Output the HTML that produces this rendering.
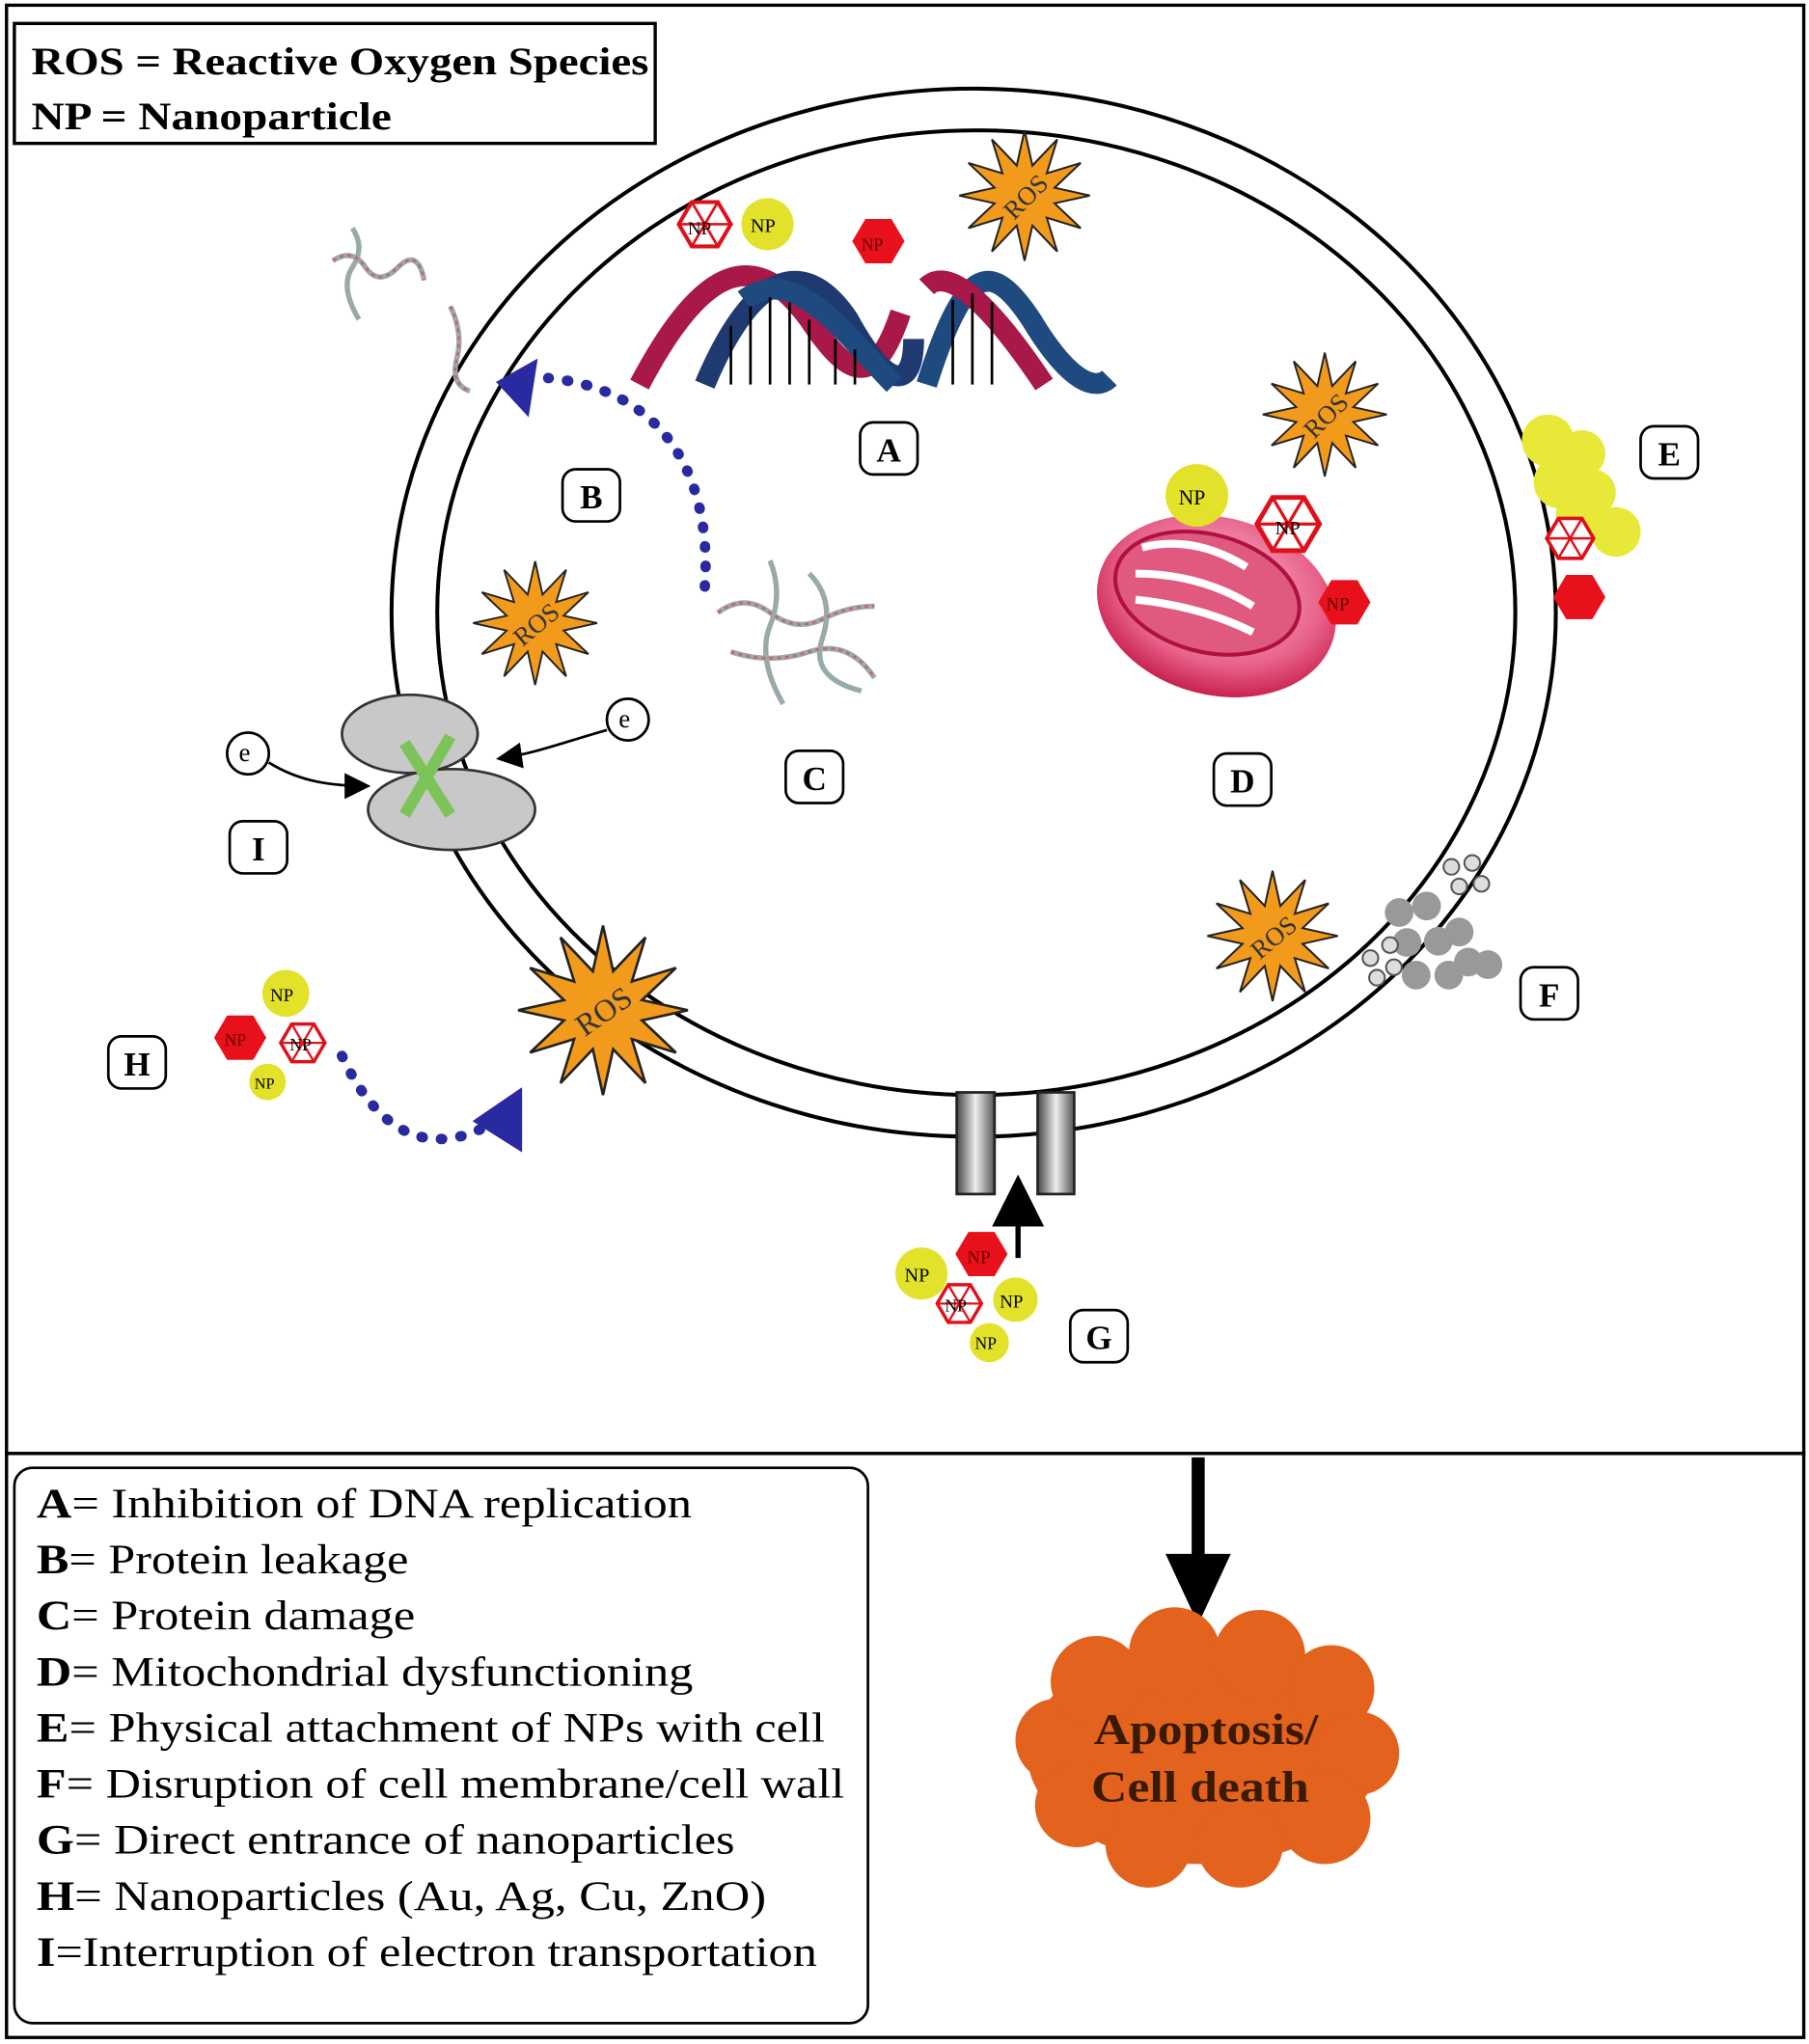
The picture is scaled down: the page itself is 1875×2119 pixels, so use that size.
<!DOCTYPE html>
<html><head><meta charset="utf-8"><style>
html,body{margin:0;padding:0;background:#fff}
svg{display:block}
text{font-family:"Liberation Serif",serif}
</style></head><body>
<svg width="1875" height="2119" viewBox="0 0 1386 1568" preserveAspectRatio="none" xmlns="http://www.w3.org/2000/svg">
<defs>
<polygon id="star" points="50,0 23,6 43,25 17,17 25,43 6,23 0,50 -6,23 -25,43 -17,17 -43,25 -23,6 -50,0 -23,-6 -43,-25 -17,-17 -25,-43 -6,-23 0,-50 6,-23 25,-43 17,-17 43,-25 23,-6" fill="#f29a1c" stroke="#222" stroke-width="1.5"/>
<polygon id="hex" points="20,0 10,17 -10,17 -20,0 -10,-17 10,-17" fill="#e8101a"/>
<g id="ico"><polygon points="20,0 10,17 -10,17 -20,0 -10,-17 10,-17" fill="#fff" stroke="#e0101a" stroke-width="3"/><path d="M-20,0 L20,0 M-10,-17 L10,17 M10,-17 L-10,17" fill="none" stroke="#e0101a" stroke-width="2"/></g>
<linearGradient id="gr" x1="0" x2="1"><stop offset="0" stop-color="#444"/><stop offset="0.5" stop-color="#eee"/><stop offset="1" stop-color="#555"/></linearGradient>
<radialGradient id="mito" cx="0.5" cy="0.4" r="0.6"><stop offset="0" stop-color="#f8c4d4"/><stop offset="0.7" stop-color="#e8628a"/><stop offset="1" stop-color="#c8204e"/></radialGradient>
<marker id="ah" markerWidth="10" markerHeight="10" refX="9" refY="5" orient="auto"><path d="M0,0 L10,5 L0,10 z" fill="#000"/></marker>
</defs>
<rect x="5" y="4" width="1377" height="1111" fill="#fff" stroke="#000" stroke-width="2.5"/>
<rect x="5" y="1115" width="1377" height="448" fill="#fff" stroke="#000" stroke-width="2.5"/>
<rect x="11" y="18" width="491" height="92" fill="#fff" stroke="#000" stroke-width="2.5"/>
<text x="24" y="57" font-size="30" font-weight="bold" textLength="473" lengthAdjust="spacingAndGlyphs">ROS = Reactive Oxygen Species</text>
<text x="24" y="99" font-size="30" font-weight="bold" textLength="276" lengthAdjust="spacingAndGlyphs">NP = Nanoparticle</text>

<!-- cell -->
<ellipse cx="746" cy="470" rx="446" ry="402" fill="#fff" stroke="#000" stroke-width="3"/>
<ellipse cx="748" cy="470" rx="413" ry="370" fill="#fff" stroke="#000" stroke-width="3"/>
<rect x="733" y="838" width="29" height="78" fill="url(#gr)" stroke="#222" stroke-width="2"/>
<rect x="795" y="838" width="28" height="78" fill="url(#gr)" stroke="#222" stroke-width="2"/>
<line x1="780" y1="965" x2="780" y2="905" stroke="#000" stroke-width="4" marker-end="url(#ah)"/>

<!-- DNA -->
<g fill="none" stroke-width="16">
<path d="M490,295 C540,200 580,190 620,245 C650,290 670,300 690,240" stroke="#a81848"/>
<path d="M540,295 C580,200 620,200 650,245 C680,300 700,300 700,260" stroke="#1e3a70"/>
<path d="M570,230 C610,200 650,260 685,295" stroke="#1e4a80"/>
<path d="M710,295 C740,200 760,200 790,245 C820,295 840,300 850,290" stroke="#1e4a80"/>
<path d="M710,220 C730,200 770,250 800,295" stroke="#a81848"/>
</g>
<g stroke="#000" stroke-width="2"><path d="M560,250 v45 M575,235 v60 M590,228 v67 M605,232 v63 M620,245 v50 M640,260 v35 M655,268 v27 M730,230 v65 M745,225 v70 M760,232 v63"/></g>

<!-- NPs top -->
<use href="#ico" transform="translate(540,172)"/>
<text x="527" y="180" font-size="14">NP</text>
<circle cx="588" cy="172" r="20" fill="#e2e22a"/><text x="575" y="178" font-size="15">NP</text>
<use href="#hex" transform="translate(673,185)"/><text x="660" y="192" font-size="13" fill="#600">NP</text>

<!-- ROS stars -->
<use href="#star" transform="translate(785,150) scale(1)"/><text x="785" y="158" font-size="20" fill="#333" text-anchor="middle" transform="rotate(-45 785 150)">ROS</text>
<use href="#star" transform="translate(1015,318) scale(0.95)"/><text x="1015" y="326" font-size="20" fill="#333" text-anchor="middle" transform="rotate(-45 1015 318)">ROS</text>
<use href="#star" transform="translate(410,478) scale(0.95)"/><text x="410" y="486" font-size="20" fill="#333" text-anchor="middle" transform="rotate(-40 410 478)">ROS</text>
<use href="#star" transform="translate(975,718) scale(1)"/><text x="975" y="726" font-size="20" fill="#333" text-anchor="middle" transform="rotate(-40 975 718)">ROS</text>
<use href="#star" transform="translate(462,775) scale(1.3)"/><text x="462" y="784" font-size="24" fill="#333" text-anchor="middle" transform="rotate(-35 462 775)">ROS</text>

<!-- proteins -->
<g fill="none" stroke="#9aa" stroke-width="4">
<path d="M255,200 q15,-10 25,5 t25,0 t20,10 M270,175 q10,15 0,30 t5,40 M345,235 q10,20 5,40 t10,25" />
<path d="M550,470 q20,-15 40,0 t40,5 t40,-10 M590,430 q10,25 0,50 t10,60 M620,440 q20,20 10,50 t30,40 M560,500 q30,10 60,0 t50,20" />
</g>
<g fill="none" stroke="#c66" stroke-width="2" stroke-dasharray="3 3">
<path d="M255,200 q15,-10 25,5 t25,0 t20,10 M345,235 q10,20 5,40 t10,25" />
<path d="M550,470 q20,-15 40,0 t40,5 t40,-10 M560,500 q30,10 60,0 t50,20" />
</g>

<!-- dotted arrows -->
<path d="M540,450 C545,380 520,300 420,290" fill="none" stroke="#2a2aa0" stroke-width="8" stroke-dasharray="1 14" stroke-linecap="round"/>
<polygon points="380,293 412,275 405,320" fill="#2a2aa0"/>
<path d="M262,810 C290,870 330,890 380,860" fill="none" stroke="#2a2aa0" stroke-width="8" stroke-dasharray="1 14" stroke-linecap="round"/>
<polygon points="400,884 400,834 362,860" fill="#2a2aa0"/>

<!-- mito -->
<ellipse cx="932" cy="465" rx="93" ry="68" fill="url(#mito)" transform="rotate(15 932 465)"/>
<ellipse cx="925" cy="455" rx="72" ry="45" fill="#e05a80" stroke="#b0103e" stroke-width="3" transform="rotate(15 925 455)"/>
<path d="M875,420 q40,-10 80,15 M870,440 q50,0 90,25 M870,460 q50,5 90,25" stroke="#fff" stroke-width="6" fill="none"/>
<circle cx="917" cy="380" r="24" fill="#e2e22a"/><text x="903" y="387" font-size="16">NP</text>
<use href="#ico" transform="translate(987,402) scale(1.2)"/><text x="977" y="410" font-size="15">NP</text>
<use href="#hex" transform="translate(1030,462)"/><text x="1016" y="468" font-size="14" fill="#600">NP</text>

<!-- E -->
<g fill="#e8e838"><circle cx="1186" cy="338" r="20"/><circle cx="1212" cy="348" r="18"/><circle cx="1195" cy="370" r="20"/><circle cx="1220" cy="378" r="18"/><circle cx="1238" cy="408" r="19"/><circle cx="1210" cy="395" r="18"/></g>
<use href="#ico" transform="translate(1203,413) scale(0.9)"/>
<use href="#hex" transform="translate(1210,458)"/>

<!-- I -->
<ellipse cx="314" cy="563" rx="52" ry="30" fill="#c8c8c8" stroke="#333" stroke-width="2"/>
<ellipse cx="346" cy="621" rx="64" ry="31" fill="#c8c8c8" stroke="#333" stroke-width="2"/>
<path d="M310,570 L345,625 M345,565 L310,625" stroke="#7cc45a" stroke-width="9"/>
<circle cx="190" cy="578" r="16" fill="#fff" stroke="#000" stroke-width="2"/><text x="183" y="584" font-size="20">e</text>
<circle cx="481" cy="552" r="16" fill="#fff" stroke="#000" stroke-width="2"/><text x="474" y="558" font-size="20">e</text>
<path d="M206,585 C230,600 255,603 282,603" fill="none" stroke="#000" stroke-width="2" marker-end="url(#ah)"/>
<path d="M465,560 C430,570 410,578 382,582" fill="none" stroke="#000" stroke-width="2" marker-end="url(#ah)"/>

<!-- F -->
<g fill="#999"><circle cx="1072" cy="700" r="11"/><circle cx="1093" cy="695" r="11"/><circle cx="1118" cy="715" r="11"/><circle cx="1078" cy="723" r="11"/><circle cx="1102" cy="722" r="11"/><circle cx="1125" cy="738" r="11"/><circle cx="1085" cy="748" r="11"/><circle cx="1110" cy="748" r="11"/><circle cx="1140" cy="740" r="11"/></g>
<g fill="#ddd" stroke="#555" stroke-width="1.5"><circle cx="1112" cy="665" r="6"/><circle cx="1128" cy="662" r="6"/><circle cx="1118" cy="680" r="6"/><circle cx="1135" cy="678" r="6"/><circle cx="1050" cy="735" r="6"/><circle cx="1055" cy="750" r="6"/><circle cx="1065" cy="725" r="6"/><circle cx="1068" cy="742" r="6"/></g>

<!-- H -->
<circle cx="219" cy="762" r="18" fill="#e2e22a"/><text x="207" y="768" font-size="14">NP</text>
<use href="#hex" transform="translate(184,796)"/><text x="172" y="802" font-size="13" fill="#600">NP</text>
<use href="#ico" transform="translate(232,800) scale(0.85)"/><text x="222" y="806" font-size="13">NP</text>
<circle cx="205" cy="830" r="14" fill="#e2e22a"/><text x="195" y="835" font-size="12">NP</text>

<!-- G -->
<circle cx="706" cy="977" r="20" fill="#e2e22a"/><text x="693" y="983" font-size="15">NP</text>
<use href="#hex" transform="translate(752,962)"/><text x="741" y="969" font-size="14" fill="#600">NP</text>
<use href="#ico" transform="translate(735,1000) scale(0.85)"/><text x="724" y="1006" font-size="13">NP</text>
<circle cx="778" cy="997" r="17" fill="#e2e22a"/><text x="766" y="1003" font-size="14">NP</text>
<circle cx="758" cy="1030" r="15" fill="#e2e22a"/><text x="747" y="1035" font-size="13">NP</text>

<!-- labels -->
<g fill="#fff" stroke="#000" stroke-width="2">
<rect x="659" y="324" width="44" height="40" rx="10"/><rect x="431" y="360" width="44" height="40" rx="10"/>
<rect x="602" y="576" width="44" height="40" rx="10"/><rect x="930" y="578" width="44" height="40" rx="10"/>
<rect x="1257" y="327" width="44" height="40" rx="10"/><rect x="1165" y="742" width="44" height="40" rx="10"/>
<rect x="820" y="1005" width="44" height="40" rx="10"/><rect x="83" y="795" width="44" height="40" rx="10"/>
<rect x="176" y="630" width="44" height="40" rx="10"/>
</g>
<g font-size="26" font-weight="bold" text-anchor="middle">
<text x="681" y="354">A</text><text x="453" y="390">B</text><text x="624" y="606">C</text><text x="952" y="608">D</text>
<text x="1279" y="357">E</text><text x="1187" y="772">F</text><text x="842" y="1035">G</text><text x="105" y="825">H</text><text x="198" y="660">I</text>
</g>

<!-- bottom -->
<rect x="11" y="1126" width="654" height="426" rx="14" fill="#fff" stroke="#000" stroke-width="2"/>
<g font-size="32" lengthAdjust="spacingAndGlyphs">
<text x="28" y="1164" textLength="502" lengthAdjust="spacingAndGlyphs"><tspan font-weight="bold">A</tspan>= Inhibition of DNA replication</text>
<text x="28" y="1207" textLength="285" lengthAdjust="spacingAndGlyphs"><tspan font-weight="bold">B</tspan>= Protein leakage</text>
<text x="28" y="1250" textLength="290" lengthAdjust="spacingAndGlyphs"><tspan font-weight="bold">C</tspan>= Protein damage</text>
<text x="28" y="1293" textLength="503" lengthAdjust="spacingAndGlyphs"><tspan font-weight="bold">D</tspan>= Mitochondrial dysfunctioning</text>
<text x="28" y="1336" textLength="604" lengthAdjust="spacingAndGlyphs"><tspan font-weight="bold">E</tspan>= Physical attachment of NPs with cell</text>
<text x="28" y="1379" textLength="619" lengthAdjust="spacingAndGlyphs"><tspan font-weight="bold">F</tspan>= Disruption of cell membrane/cell wall</text>
<text x="28" y="1422" textLength="535" lengthAdjust="spacingAndGlyphs"><tspan font-weight="bold">G</tspan>= Direct entrance of nanoparticles</text>
<text x="28" y="1465" textLength="559" lengthAdjust="spacingAndGlyphs"><tspan font-weight="bold">H</tspan>= Nanoparticles (Au, Ag, Cu, ZnO)</text>
<text x="28" y="1508" textLength="598" lengthAdjust="spacingAndGlyphs"><tspan font-weight="bold">I</tspan>=Interruption of electron transportation</text>
</g>
<rect x="913" y="1118" width="10" height="80" fill="#000"/>
<polygon points="893,1192 943,1192 918,1246" fill="#000"/>
<g fill="#e2621e">
<ellipse cx="922" cy="1345" rx="135" ry="85"/>
<circle cx="810" cy="1335" r="32"/><circle cx="840" cy="1290" r="35"/><circle cx="900" cy="1268" r="35"/><circle cx="965" cy="1270" r="35"/><circle cx="1020" cy="1295" r="33"/>
<circle cx="1040" cy="1345" r="32"/><circle cx="1015" cy="1395" r="35"/><circle cx="950" cy="1415" r="33"/><circle cx="880" cy="1415" r="33"/><circle cx="825" cy="1385" r="32"/>
</g>
<text x="838" y="1338" font-size="34" font-weight="bold" fill="#3a1a00" textLength="172" lengthAdjust="spacingAndGlyphs">Apoptosis/</text>
<text x="836" y="1382" font-size="34" font-weight="bold" fill="#3a1a00" textLength="167" lengthAdjust="spacingAndGlyphs">Cell death</text>
</svg>
</body></html>
